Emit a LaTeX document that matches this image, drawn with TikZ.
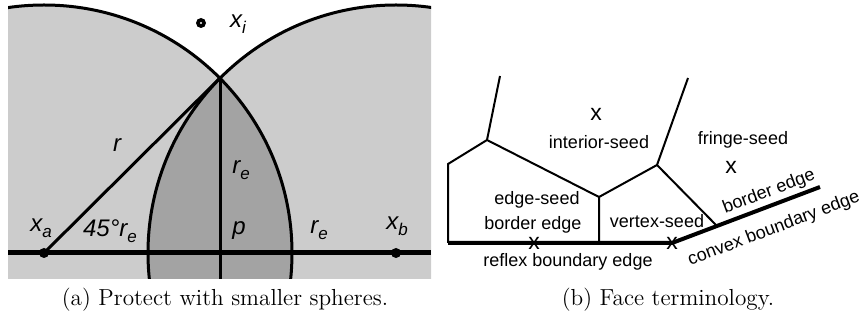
\documentclass[tikz,border=0pt]{standalone}
\usepackage{fontspec}
\newfontfamily\labfont{Liberation Sans}
\usetikzlibrary{positioning}

% small italic subscript for the sans labels
\newcommand{\lsub}[2]{#1\raisebox{-0.45ex}{\fontsize{8.5}{9}\selectfont #2}}

\begin{document}
\begin{tikzpicture}[
    x=0.5pt, y=-0.5pt, % one unit per pixel, y running down
    lab/.style={font=\labfont\itshape\fontsize{12}{14}\selectfont, inner sep=0pt},
    term/.style={font=\labfont\fontsize{9}{11}\selectfont, inner sep=0pt},
    seed/.style={font=\labfont\fontsize{11.5}{12}\selectfont, inner sep=0pt},
    subcap/.style={font=\fontsize{11.6}{14}\selectfont, inner sep=0pt},
    dot/.style={circle, fill=black, minimum size=5pt, inner sep=0pt},
    rim/.style={line width=1.5pt},
    wall/.style={line width=1pt},
    bound/.style={line width=2pt}
]
    \useasboundingbox (0,0) rectangle (862,320);

    % (a) the two big spheres and their lens
    \coordinate (xa) at (44,253);
    \coordinate (xb) at (396,253);
    \coordinate (p) at (220,253);
    \coordinate (q) at (220,78);
    \coordinate (pb) at (220,279);
    \coordinate (la) at (8,253);
    \coordinate (lb) at (431,253);

    \begin{scope}
        \clip (8,0) rectangle (431,279);
        \fill[black!20] (xa) circle[radius=124pt] (xb) circle[radius=124pt];
        \begin{scope}
            \clip (xa) circle[radius=124pt];
            \fill[black!36] (xb) circle[radius=124pt];
        \end{scope}
        \draw[rim] (xa) circle[radius=124pt] (xb) circle[radius=124pt];
    \end{scope}

    \draw[line width=2.5pt] (la) -- (lb);
    \draw[rim] (xa) -- (q);
    \draw[rim] (q) -- (pb);

    \node (da) [dot] at (xa) {};
    \node (db) [dot] at (xb) {};
    \node (di) [dot] at (201,23) {};
    \fill[white] (di.center) circle (0.6pt);

    \node (lxi) [lab] at (238,24) {\lsub{x}{i}};
    \node (lr) [lab] at (117,145) {r};
    \node (lre) [lab] at (241,170) {\lsub{r}{e}};
    \node (lxa) [lab] at (41,228) {\lsub{x}{a}};
    \node (l45) [lab] at (110,231) {45°\lsub{r}{e}};
    \node (lp) [lab] at (239,231) {p};
    \node (lre2) [lab] at (319,230) {\lsub{r}{e}};
    \node (lxb) [lab] at (397,226) {\lsub{x}{b}};

    \node (capa) [subcap] at (225,300) {(a) Protect with smaller spheres.};

    % (b) faces of the seeds
    \coordinate (t1) at (500,76);
    \coordinate (va) at (487,140);
    \coordinate (vl) at (448,164);
    \coordinate (vll) at (448,243);
    \coordinate (vb) at (599,197);
    \coordinate (vbb) at (599,243);
    \coordinate (vc) at (657,165);
    \coordinate (t2) at (688,78);
    \coordinate (vx) at (672,243);
    \coordinate (vd) at (716,225);
    \coordinate (ve) at (820,187);

    \draw[wall] (t1) -- (va) -- (vl) -- (vll);
    \draw[wall] (va) -- (vb) -- (vbb);
    \draw[wall] (vb) -- (vc) -- (t2);
    \draw[wall] (vc) -- (vd);
    \draw[bound] (vll) -- (vx) -- (ve);

    \node (s1) [seed] at (596,114) {x};
    \node (n1) [term] at (599,142) {interior-seed};
    \node (n2) [term] at (743,140) {fringe-seed};
    \node (s2) [seed] at (731,167) {x};
    \node (n3) [term] at (537,200) {edge-seed};
    \node (n4) [term] at (533,225) {border edge};
    \node (s3) [seed] at (534,243) {x};
    \node (n5) [term] at (568,262) {reflex boundary edge};
    \node (n6) [term] at (657,221) {vertex-seed};
    \node (s4) [seed] at (vx) {x};
    \node (n7) [term, rotate=20.7] at (769,192) {border edge};
    \node (n8) [term, rotate=20.7] at (774,229) {convex boundary edge};

    \node (capb) [subcap] at (668,300) {(b) Face terminology.};
\end{tikzpicture}
\end{document}
